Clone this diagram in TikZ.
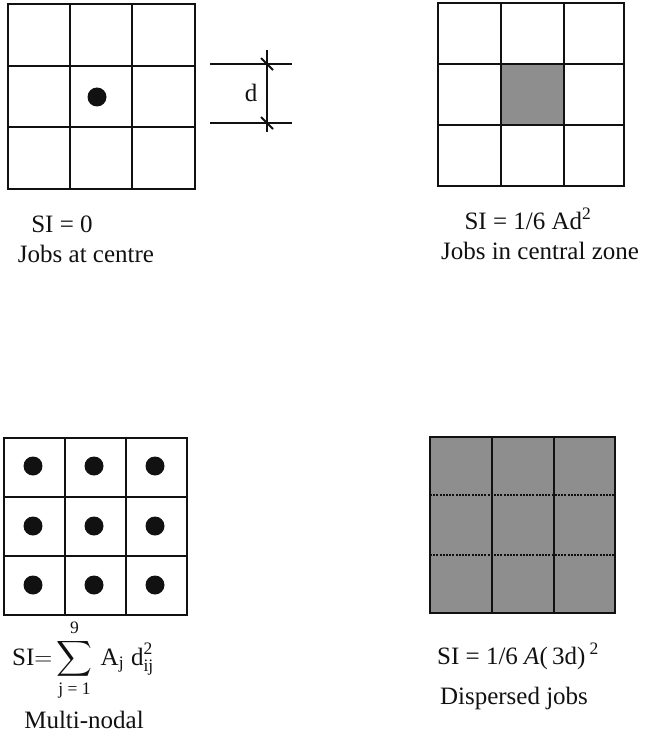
\documentclass[tikz,border=0pt]{standalone}
\usepackage{amsmath}
\usepackage{fontspec}
\setmainfont{Liberation Serif}
\usetikzlibrary{positioning,calc}
\definecolor{ink}{HTML}{111111}
\definecolor{screen}{HTML}{8E8E8E}
\tikzset{
  frame/.style={draw=ink, line width=2.8pt},
  cell/.style={draw=ink, line width=2.2pt},
  hair/.style={draw=ink, line width=1.6pt, dash pattern=on 2pt off 1.2pt},
  job/.style={circle, fill=ink, inner sep=0pt, minimum size=19pt},
  dim/.style={draw=ink, line width=1.1pt},
  dimtick/.style={draw=ink, line width=2pt},
  legend/.style={font=\fontsize{25pt}{29pt}\selectfont, text=ink, inner sep=0pt, anchor=base},
}

\begin{document}
\begin{tikzpicture}[x=1pt, y=-1pt]
  \useasboundingbox (0,0) rectangle (645,733);

  % jobs at centre
  \foreach \gx in {70,132} \draw[cell] (\gx,4) -- (\gx,189);
  \foreach \gy in {66,127} \draw[cell] (8,\gy) -- (195,\gy);
  \draw[frame] (8,4) rectangle (195,189);
  \node[job] (hub) at (97,97) {};

  % dimension d
  \coordinate (dtop) at (267,64);
  \coordinate (dbot) at (267,123);
  \draw[dim] (210,64) -- (292,64);
  \draw[dim] (210,123) -- (292,123);
  \draw[dim] ($(dtop)+(0,-14)$) -- ($(dbot)+(0,9)$);
  \draw[dimtick] ($(dtop)+(-6,-6)$) -- ($(dtop)+(6,6)$);
  \draw[dimtick] ($(dbot)+(-6,-6)$) -- ($(dbot)+(6,6)$);
  \node[legend] (dlab) at (251,102) {d};

  \node[legend] (si0) at (62,232) {SI = 0};
  \node[legend] (cap0) at (86,262) {Jobs at centre};

  % jobs in central zone
  \fill[screen] (501,64) rectangle (564,125);
  \foreach \gx in {501,564} \draw[cell] (\gx,3) -- (\gx,186);
  \foreach \gy in {64,125} \draw[cell] (438,\gy) -- (624,\gy);
  \draw[frame] (438,3) rectangle (624,186);

  \node[legend] (si1) at (528,229) {SI = 1/6 Ad\textsuperscript{2}};
  \node[legend] (cap1) at (540,259) {Jobs in central zone};

  % multi-nodal
  \foreach \gx in {65,126} \draw[cell] (\gx,438) -- (\gx,615);
  \foreach \gy in {497,556} \draw[cell] (4,\gy) -- (187,\gy);
  \draw[frame] (4,438) rectangle (187,615);
  \foreach \jx [count=\i] in {33,94,155}
    \foreach \jy [count=\j] in {466,526,585}
      \node[job] (job\i\j) at (\jx,\jy) {};

  \node[legend, anchor=base west] (si2) at (12,665)
    {SI${=}\displaystyle\sum_{\text{j = 1}}^{\text{9}}\,\text{A}_{\text{j}}\;\text{d}_{\text{ij}}^{\text{2}}$};
  \node[legend] (cap2) at (84,728) {Multi-nodal};

  % dispersed jobs
  \fill[screen] (430,437) rectangle (615,613);
  \foreach \gx in {492,554} \draw[cell, line width=1.8pt] (\gx,437) -- (\gx,613);
  \foreach \gy in {495,555} \draw[hair] (430,\gy) -- (615,\gy);
  \draw[frame] (430,437) rectangle (615,613);

  \node[legend] (si3) at (518,664) {SI = 1/6 \textit{A}(\,3d)\,\textsuperscript{2}};
  \node[legend] (cap3) at (514,704) {Dispersed jobs};
\end{tikzpicture}
\end{document}
